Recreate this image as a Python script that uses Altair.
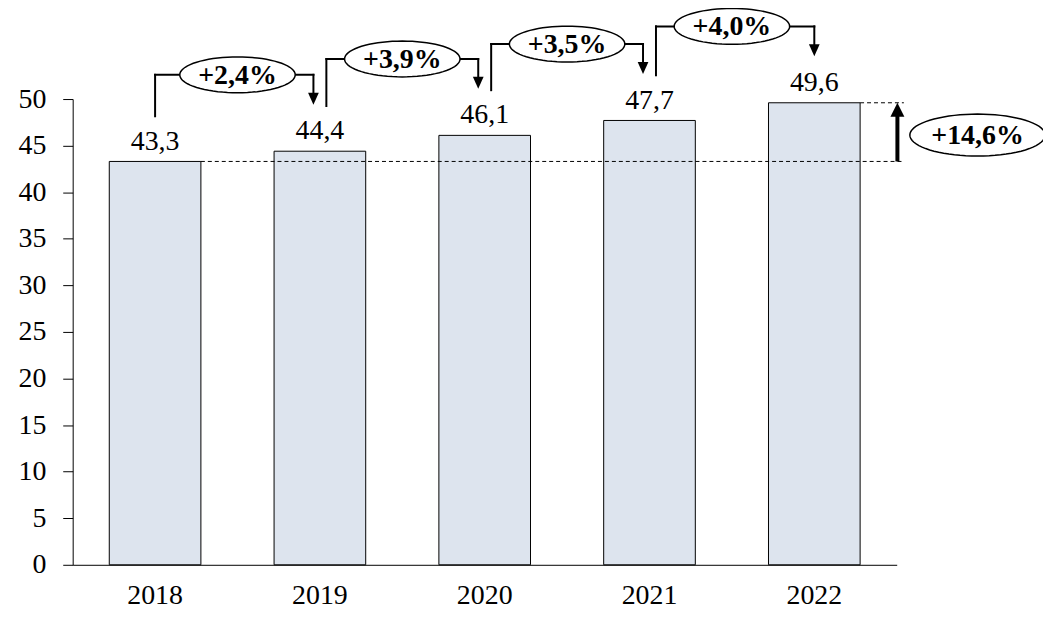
import altair as alt
import pandas as pd
import numpy as np

# ---- data ----
years = ["2018", "2019", "2020", "2021", "2022"]
values = [43.3, 44.4, 46.1, 47.7, 49.6]
growth_labels = ["+2,4%", "+3,9%", "+3,5%", "+4,0%"]
total_label = "+14,6%"
y_ticks = [0, 5, 10, 15, 20, 25, 30, 35, 40, 45, 50]

FONT = "Liberation Serif"
BAR_FILL = "#dde4ee"
FS = 28
FSB = 28

bars_df = pd.DataFrame({
    "year": years,
    "value": values,
    "label": [f"{v:.1f}".replace(".", ",") for v in values],
})

# bracket annotation table (levels placed relative to the bar values)
br = pd.DataFrame({
    "idx": list(range(len(growth_labels))),
    "x0": years[:-1],
    "x1": years[1:],
    "level": [v + 8.2 for v in values[1:]],
    "tip": [v + 5.0 for v in values[1:]],
    "start": [v + 4.85 for v in values[:-1]],
    "label": growth_labels,
})

total_df = pd.DataFrame({
    "first": [years[0]],
    "last": [years[-1]],
    "low": [values[0]],
    "high": [values[-1]],
    "mid": [(values[0] + values[-1]) / 2],
    "label": [total_label],
})

# shapes
t = np.linspace(0, 2 * np.pi, 72, endpoint=False)
ELLIPSE = "M " + " L ".join(f"{np.cos(a):.4f} {0.31 * np.sin(a):.4f}" for a in t) + " Z"
TRI_DOWN = "M -0.9 -1 L 0.9 -1 L 0 1 Z"
TRI_UP = "M -1 1 L 1 1 L 0 -1 Z"

xscale = alt.Scale(domain=years, paddingInner=0.444, paddingOuter=0.222)
yscale = alt.Scale(domain=[0, 50], nice=False, zero=True)

X = alt.X("year:N", scale=xscale, title=None,
          axis=alt.Axis(labelAngle=0, ticks=False, tickSize=0, labelPadding=17,
                        domainColor="black", domainWidth=1,
                        labelFont=FONT, labelFontSize=FS, labelColor="black"))
Y = alt.Y("value:Q", scale=yscale, title=None,
          axis=alt.Axis(values=y_ticks, grid=False, tickSize=10, tickColor="black",
                        tickWidth=1, labelPadding=17, domainColor="black", domainWidth=1,
                        labelFont=FONT, labelFontSize=FS, labelColor="black"))

bars = alt.Chart(bars_df).mark_bar(fill=BAR_FILL, stroke="black", strokeWidth=1).encode(x=X, y=Y)

value_text = alt.Chart(bars_df).mark_text(
    dy=-12, baseline="alphabetic", font=FONT, fontSize=FS, color="black"
).encode(x="year:N", y="value:Q", text="label:N")

dash_low = alt.Chart(total_df).mark_rule(
    strokeDash=[4, 3], strokeWidth=1, color="black", xOffset=46, x2Offset=90
).encode(x="first:N", x2="last:N", y="low:Q")
dash_high = alt.Chart(total_df).mark_rule(
    strokeDash=[4, 3], strokeWidth=1, color="black", xOffset=46, x2Offset=90
).encode(x="last:N", x2="last:N", y="high:Q")

LW = 2
OFF = 6.5
base = alt.Chart(br)

start0 = base.transform_filter("datum.idx == 0").mark_rule(
    strokeWidth=LW, color="black", strokeCap="square"
).encode(x="x0:N", y="start:Q", y2="level:Q")
startN = base.transform_filter("datum.idx > 0").mark_rule(
    strokeWidth=LW, color="black", strokeCap="square", xOffset=OFF, x2Offset=OFF
).encode(x="x0:N", y="start:Q", y2="level:Q")

h0 = base.transform_filter("datum.idx == 0").mark_rule(
    strokeWidth=LW, color="black", strokeCap="square", x2Offset=-OFF
).encode(x="x0:N", x2="x1:N", y="level:Q")
hmid = base.transform_filter("datum.idx > 0 && datum.idx < 3").mark_rule(
    strokeWidth=LW, color="black", strokeCap="square", xOffset=OFF, x2Offset=-OFF
).encode(x="x0:N", x2="x1:N", y="level:Q")
hlast = base.transform_filter("datum.idx == 3").mark_rule(
    strokeWidth=LW, color="black", strokeCap="square", xOffset=OFF
).encode(x="x0:N", x2="x1:N", y="level:Q")

stemN = base.transform_filter("datum.idx < 3").mark_rule(
    strokeWidth=LW, color="black", strokeCap="square", xOffset=-OFF, x2Offset=-OFF, y2Offset=-8
).encode(x="x1:N", y="level:Q", y2="tip:Q")
stemL = base.transform_filter("datum.idx == 3").mark_rule(
    strokeWidth=LW, color="black", strokeCap="square", y2Offset=-8
).encode(x="x1:N", y="level:Q", y2="tip:Q")

headN = base.transform_filter("datum.idx < 3").mark_point(
    shape=TRI_DOWN, size=144, filled=True, color="black", opacity=1, strokeWidth=0,
    xOffset=-OFF, yOffset=-6
).encode(x="x1:N", y="tip:Q")
headL = base.transform_filter("datum.idx == 3").mark_point(
    shape=TRI_DOWN, size=144, filled=True, color="black", opacity=1, strokeWidth=0,
    yOffset=-6
).encode(x="x1:N", y="tip:Q")

HALF = 82.8
ellipses = base.mark_point(
    shape=ELLIPSE, size=116 ** 2, filled=True, color="black", fill="white",
    stroke="black", strokeWidth=1.5, opacity=1, fillOpacity=1, xOffset=HALF
).encode(x="x0:N", y="level:Q")
ell_text = base.mark_text(
    dx=HALF, dy=1, baseline="middle", font=FONT, fontSize=FSB, fontWeight="bold", color="black"
).encode(x="x0:N", y="level:Q", text="label:N")

TX = 83.5
tot_stem = alt.Chart(total_df).mark_rule(
    strokeWidth=4, color="black", xOffset=TX, x2Offset=TX, y2Offset=12
).encode(x="last:N", y="low:Q", y2="high:Q")
tot_head = alt.Chart(total_df).mark_point(
    shape=TRI_UP, size=196, filled=True, color="black", opacity=1, strokeWidth=0,
    xOffset=TX, yOffset=7
).encode(x="last:N", y="high:Q")

EX = 164
tot_ell = alt.Chart(total_df).mark_point(
    shape=ELLIPSE, size=136 ** 2, filled=True, color="black", fill="white",
    stroke="black", strokeWidth=1.5, opacity=1, fillOpacity=1, xOffset=EX, yOffset=3
).encode(x="last:N", y="mid:Q")
tot_text = alt.Chart(total_df).mark_text(
    dx=EX, dy=4, baseline="middle", font=FONT, fontSize=FSB, fontWeight="bold", color="black"
).encode(x="last:N", y="mid:Q", text="label:N")

chart = alt.layer(
    bars, value_text, dash_low, dash_high,
    start0, startN, h0, hmid, hlast, stemN, stemL, headN, headL,
    ellipses, ell_text,
    tot_stem, tot_head, tot_ell, tot_text,
).properties(
    width=828, height=468,
    autosize=alt.AutoSizeParams(type="none"),
    padding={"left": 65, "top": 90, "right": 147, "bottom": 55},
    background="white",
).configure_view(stroke=None)

chart.save("out.html", embed_options={"renderer": "svg", "actions": False})
